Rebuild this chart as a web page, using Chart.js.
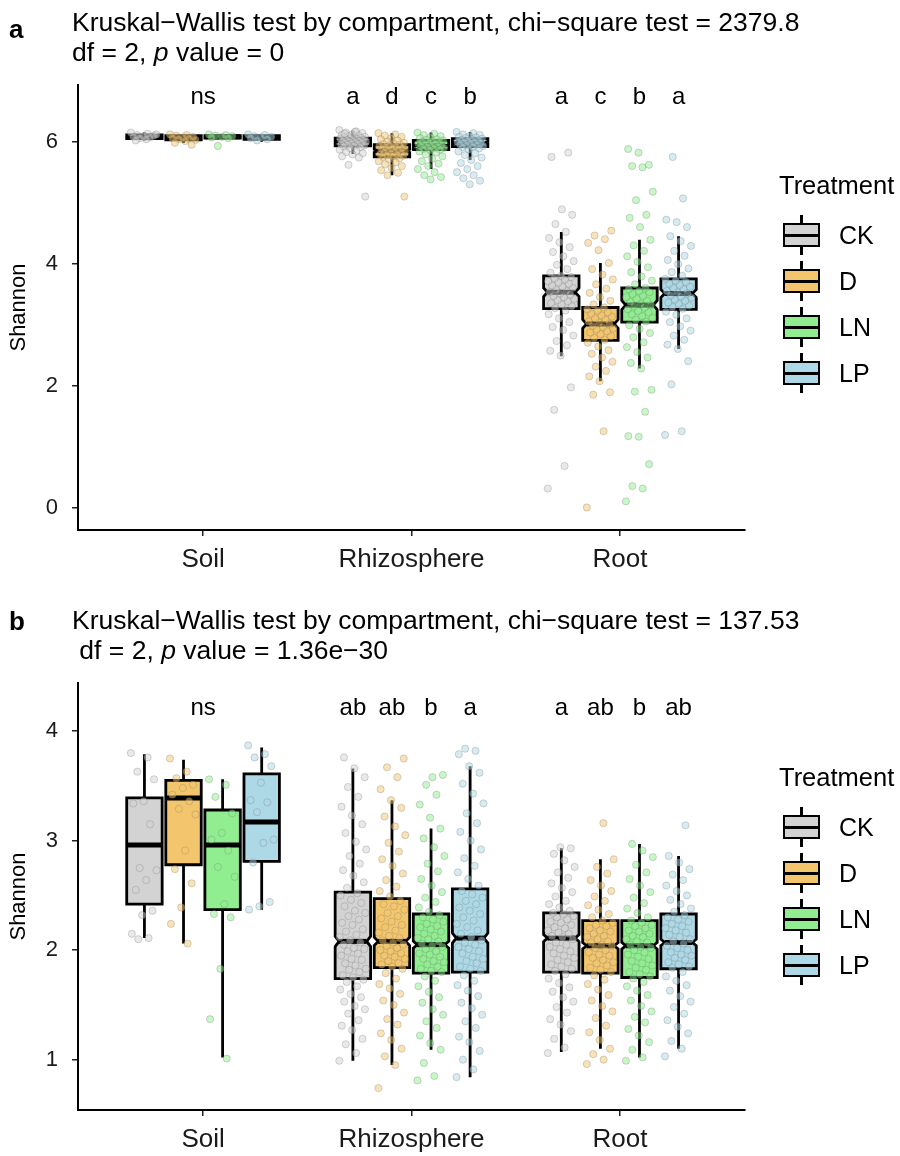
<!DOCTYPE html>
<html>
<head>
<meta charset="utf-8">
<script src="https://cdn.jsdelivr.net/npm/chart.js@4.4.1/dist/chart.umd.min.js"></script>
<style>
  body { margin: 0; background: #fff; font-family: "Liberation Sans", Arial, sans-serif; color: #000; }
  #wrap { position: relative; width: 900px; height: 1156px; overflow: hidden; }
  canvas { position: absolute; left: 0; }
  .tag { position: absolute; left: 9px; font-weight: bold; font-size: 26px; line-height: 30px; }
  .title { position: absolute; left: 72px; font-size: 26.5px; line-height: 30px; white-space: pre; }
  .lgtitle { position: absolute; left: 779px; font-size: 25.5px; line-height: 30px; }
  .item { position: absolute; left: 783px; height: 40px; width: 115px; }
  .item .wh { position: absolute; left: 17px; top: 0; width: 3px; height: 40px; background: #000; }
  .item .bx { position: absolute; left: 0; top: 8px; width: 37px; height: 24px; border: 2.5px solid #000; box-sizing: border-box; }
  .item .md { position: absolute; left: 0; top: 18.5px; width: 37px; height: 3px; background: #000; }
  .item .lb { position: absolute; left: 56px; top: 5px; font-size: 25px; line-height: 30px; }
</style>
</head>
<body>
<div id="wrap">
  <canvas id="chartA" width="900" height="600" style="top:0"></canvas>
  <canvas id="chartB" width="900" height="556" style="top:600px"></canvas>

  <div class="tag" style="top:14px">a</div>
  <div class="title" style="top:7px">Kruskal−Wallis test by compartment, chi−square test = 2379.8
df = 2, <i>p</i> value = 0</div>
  <div class="tag" style="top:606px">b</div>
  <div class="title" style="top:605px">Kruskal−Wallis test by compartment, chi−square test = 137.53
 df = 2, <i>p</i> value = 1.36e−30</div>

  <div id="legendA"></div>
  <div id="legendB"></div>
</div>

<script>
const CATEGORIES = ['Soil', 'Rhizosphere', 'Root'];
const TREATMENTS = ['CK', 'D', 'LN', 'LP'];
const FILLS = ['#D3D3D3', '#F3C66D', '#90EE90', '#ADD8E6'];

const A_TICKS = [0, 2, 4, 6];
const B_TICKS = [1, 2, 3, 4];

const A_LETTERS = [['ns'], ['a', 'd', 'c', 'b'], ['a', 'c', 'b', 'a']];
const B_LETTERS = [['ns'], ['ab', 'ab', 'b', 'a'], ['a', 'ab', 'b', 'ab']];
const A_LETTER_Y = 6.73;
const B_LETTER_Y = 4.21;

// sample sizes per compartment (used for the notch)
const A_N = [10, 140, 140];
const B_N = [15, 700, 700];

// box stats per compartment: [lower whisker, q1, median, q3, upper whisker]
const A_BOX_CK = [[6.02, 6.05, 6.08, 6.11, 6.15], [5.80, 5.93, 6.00, 6.06, 6.18], [2.48, 3.26, 3.53, 3.80, 4.52]];
const A_BOX_D  = [[5.98, 6.03, 6.06, 6.10, 6.12], [5.45, 5.75, 5.85, 5.95, 6.14], [2.07, 2.74, 3.01, 3.28, 4.01]];
const A_BOX_LN = [[6.04, 6.06, 6.08, 6.10, 6.12], [5.55, 5.87, 5.94, 6.02, 6.15], [2.28, 3.04, 3.32, 3.60, 4.39]];
const A_BOX_LP = [[6.00, 6.04, 6.07, 6.10, 6.12], [5.70, 5.92, 5.98, 6.05, 6.16], [2.60, 3.25, 3.51, 3.75, 4.45]];

const B_BOX_CK = [[2.11, 2.42, 2.96, 3.39, 3.79], [0.99, 1.74, 2.08, 2.53, 3.66], [1.07, 1.80, 2.11, 2.34, 2.93]];
const B_BOX_D  = [[2.06, 2.78, 3.39, 3.55, 3.74], [0.95, 1.84, 2.08, 2.47, 3.37], [1.10, 1.79, 2.04, 2.27, 2.83]];
const B_BOX_LN = [[1.02, 2.37, 2.96, 3.28, 3.56], [1.09, 1.79, 2.05, 2.33, 3.11], [1.02, 1.75, 2.04, 2.27, 2.97]];
const B_BOX_LP = [[2.37, 2.81, 3.17, 3.61, 3.85], [0.84, 1.80, 2.11, 2.56, 3.68], [1.10, 1.83, 2.07, 2.33, 2.86]];

// observed Shannon values per compartment (Soil, Rhizosphere, Root)
const A_PTS_CK = [
  [6.15, 6.13, 6.11, 6.10, 6.09, 6.08, 6.07, 6.06, 6.12, 6.04, 6.02],
  [6.19, 6.17, 6.15, 6.14, 6.12, 6.11, 6.10, 6.09, 6.08, 6.07, 6.07, 6.06, 6.05, 6.05, 6.04, 6.03, 6.03, 6.02, 6.01, 6.01, 6.00, 6.00, 5.99, 5.98, 5.98, 5.97, 5.96, 5.96, 5.95, 5.94, 5.93, 5.92, 5.91, 5.89, 5.87, 5.85, 5.83, 5.81, 5.79, 5.76, 5.74, 5.62, 5.10, 6.16, 6.13],
  [0.31, 0.68, 1.60, 1.97, 2.49, 2.57, 2.66, 2.73, 2.82, 2.91, 2.96, 3.04, 3.10, 3.17, 3.23, 3.27, 3.30, 3.33, 3.35, 3.38, 3.40, 3.42, 3.45, 3.47, 3.49, 3.51, 3.53, 3.55, 3.57, 3.60, 3.62, 3.64, 3.67, 3.69, 3.71, 3.74, 3.76, 3.78, 3.80, 3.85, 3.91, 3.98, 4.04, 4.12, 4.19, 4.27, 4.35, 4.42, 4.52, 4.65, 4.80, 4.89, 5.75, 5.82]
];
const A_PTS_D = [
  [6.12, 6.11, 6.10, 6.08, 6.07, 6.06, 6.05, 6.04, 6.03, 6.01, 5.98, 5.95],
  [6.14, 6.12, 6.10, 6.08, 6.06, 6.04, 6.02, 6.00, 5.98, 5.97, 5.96, 5.95, 5.94, 5.93, 5.92, 5.91, 5.90, 5.89, 5.88, 5.87, 5.86, 5.85, 5.84, 5.83, 5.82, 5.81, 5.80, 5.79, 5.78, 5.77, 5.76, 5.75, 5.73, 5.71, 5.68, 5.66, 5.63, 5.60, 5.57, 5.53, 5.49, 5.45, 5.10],
  [0.00, 1.25, 1.85, 1.89, 2.07, 2.15, 2.24, 2.31, 2.39, 2.46, 2.52, 2.58, 2.64, 2.70, 2.75, 2.78, 2.81, 2.84, 2.87, 2.89, 2.92, 2.94, 2.96, 2.98, 3.01, 3.03, 3.05, 3.08, 3.10, 3.13, 3.15, 3.18, 3.20, 3.23, 3.25, 3.28, 3.33, 3.39, 3.45, 3.52, 3.59, 3.66, 3.74, 3.82, 3.91, 4.01, 4.22, 4.34, 4.40, 4.46, 4.54]
];
const A_PTS_LN = [
  [6.12, 6.11, 6.10, 6.09, 6.08, 6.07, 6.06, 5.93],
  [6.15, 6.13, 6.11, 6.09, 6.07, 6.06, 6.04, 6.03, 6.02, 6.01, 6.00, 5.99, 5.98, 5.97, 5.96, 5.95, 5.94, 5.93, 5.93, 5.92, 5.91, 5.90, 5.89, 5.88, 5.87, 5.86, 5.84, 5.82, 5.79, 5.76, 5.72, 5.68, 5.64, 5.60, 5.55, 5.50, 5.45, 5.42, 5.38],
  [0.10, 0.31, 0.35, 0.71, 1.16, 1.17, 1.57, 1.90, 1.93, 2.28, 2.37, 2.46, 2.55, 2.63, 2.71, 2.79, 2.86, 2.93, 2.99, 3.05, 3.08, 3.11, 3.14, 3.17, 3.20, 3.22, 3.25, 3.28, 3.30, 3.32, 3.34, 3.37, 3.39, 3.42, 3.45, 3.47, 3.50, 3.53, 3.55, 3.58, 3.60, 3.66, 3.72, 3.79, 3.86, 3.94, 4.03, 4.12, 4.21, 4.30, 4.39, 4.60, 4.75, 4.80, 5.04, 5.18, 5.58, 5.60, 5.62, 5.82, 5.88]
];
const A_PTS_LP = [
  [6.12, 6.11, 6.09, 6.08, 6.07, 6.06, 6.04, 6.02],
  [6.16, 6.14, 6.12, 6.11, 6.09, 6.08, 6.07, 6.06, 6.05, 6.04, 6.03, 6.02, 6.01, 6.00, 5.99, 5.99, 5.98, 5.97, 5.96, 5.95, 5.94, 5.93, 5.92, 5.91, 5.89, 5.87, 5.84, 5.81, 5.78, 5.74, 5.70, 5.65, 5.60, 5.55, 5.50, 5.45, 5.40, 5.36, 5.30],
  [1.19, 1.25, 2.02, 2.40, 2.60, 2.67, 2.75, 2.82, 2.90, 2.97, 3.04, 3.10, 3.16, 3.21, 3.26, 3.29, 3.31, 3.34, 3.36, 3.39, 3.41, 3.44, 3.46, 3.48, 3.51, 3.53, 3.55, 3.58, 3.60, 3.62, 3.65, 3.67, 3.70, 3.72, 3.75, 3.80, 3.86, 3.92, 3.99, 4.06, 4.13, 4.21, 4.29, 4.37, 4.45, 4.60, 4.68, 4.72, 5.07, 5.75]
];

const B_PTS_CK = [
  [3.80, 3.76, 3.63, 3.56, 3.36, 3.34, 3.15, 2.75, 2.73, 2.64, 2.55, 2.36, 2.32, 2.15, 2.11, 2.10],
  [0.99, 1.06, 1.14, 1.19, 1.27, 1.31, 1.36, 1.42, 1.46, 1.49, 1.53, 1.57, 1.60, 1.64, 1.67, 1.71, 1.73, 1.75, 1.77, 1.80, 1.82, 1.83, 1.86, 1.88, 1.91, 1.92, 1.95, 1.97, 1.99, 2.01, 2.02, 2.05, 2.07, 2.09, 2.12, 2.14, 2.17, 2.19, 2.23, 2.25, 2.28, 2.31, 2.34, 2.36, 2.40, 2.43, 2.46, 2.50, 2.52, 2.57, 2.62, 2.68, 2.73, 2.79, 2.86, 2.92, 2.99, 3.07, 3.15, 3.23, 3.31, 3.40, 3.49, 3.58, 3.66, 3.76],
  [1.06, 1.11, 1.19, 1.26, 1.32, 1.37, 1.43, 1.48, 1.53, 1.57, 1.62, 1.66, 1.70, 1.74, 1.78, 1.81, 1.83, 1.85, 1.87, 1.89, 1.91, 1.93, 1.95, 1.97, 1.99, 2.01, 2.03, 2.05, 2.07, 2.10, 2.12, 2.13, 2.15, 2.16, 2.18, 2.20, 2.21, 2.23, 2.25, 2.26, 2.28, 2.30, 2.31, 2.33, 2.34, 2.36, 2.39, 2.42, 2.45, 2.49, 2.53, 2.57, 2.61, 2.66, 2.71, 2.76, 2.82, 2.88, 2.93, 2.94]
];
const B_PTS_D = [
  [3.75, 3.63, 3.57, 3.51, 3.48, 3.42, 3.36, 3.29, 3.24, 2.91, 2.74, 2.61, 2.39, 2.24, 2.06],
  [0.74, 0.95, 1.03, 1.10, 1.18, 1.24, 1.32, 1.37, 1.43, 1.50, 1.54, 1.60, 1.65, 1.69, 1.74, 1.79, 1.83, 1.85, 1.87, 1.88, 1.90, 1.92, 1.94, 1.95, 1.97, 1.99, 2.00, 2.02, 2.04, 2.05, 2.07, 2.09, 2.11, 2.13, 2.16, 2.18, 2.21, 2.23, 2.26, 2.29, 2.31, 2.34, 2.37, 2.40, 2.42, 2.45, 2.49, 2.54, 2.58, 2.64, 2.70, 2.77, 2.83, 2.90, 2.98, 3.05, 3.13, 3.22, 3.30, 3.37, 3.47, 3.58, 3.67, 3.75],
  [0.96, 1.00, 1.05, 1.10, 1.18, 1.25, 1.31, 1.38, 1.44, 1.49, 1.54, 1.59, 1.64, 1.69, 1.73, 1.77, 1.80, 1.82, 1.84, 1.86, 1.88, 1.89, 1.91, 1.93, 1.95, 1.96, 1.98, 2.00, 2.02, 2.04, 2.05, 2.07, 2.08, 2.10, 2.12, 2.13, 2.15, 2.17, 2.18, 2.20, 2.22, 2.23, 2.25, 2.27, 2.30, 2.33, 2.37, 2.41, 2.45, 2.49, 2.54, 2.59, 2.64, 2.70, 2.76, 2.83, 3.16]
];
const B_PTS_LN = [
  [3.56, 3.51, 3.40, 3.25, 3.07, 3.01, 2.91, 2.76, 2.67, 2.42, 2.33, 2.30, 1.83, 1.37, 1.01],
  [0.81, 0.85, 0.97, 1.09, 1.15, 1.22, 1.29, 1.35, 1.41, 1.46, 1.52, 1.57, 1.62, 1.67, 1.72, 1.76, 1.80, 1.81, 1.83, 1.85, 1.87, 1.89, 1.90, 1.92, 1.94, 1.96, 1.97, 1.99, 2.01, 2.03, 2.04, 2.06, 2.08, 2.10, 2.11, 2.13, 2.15, 2.17, 2.19, 2.21, 2.22, 2.24, 2.26, 2.28, 2.30, 2.32, 2.35, 2.39, 2.44, 2.48, 2.53, 2.59, 2.65, 2.72, 2.79, 2.86, 2.94, 3.02, 3.11, 3.21, 3.33, 3.42, 3.51, 3.60, 3.58],
  [0.99, 1.02, 1.09, 1.16, 1.22, 1.28, 1.34, 1.39, 1.44, 1.49, 1.54, 1.59, 1.63, 1.67, 1.71, 1.74, 1.76, 1.78, 1.80, 1.82, 1.84, 1.86, 1.88, 1.90, 1.92, 1.94, 1.96, 1.98, 2.00, 2.02, 2.03, 2.05, 2.07, 2.08, 2.10, 2.12, 2.13, 2.15, 2.17, 2.18, 2.20, 2.22, 2.23, 2.25, 2.27, 2.30, 2.34, 2.38, 2.43, 2.48, 2.53, 2.59, 2.65, 2.71, 2.78, 2.85, 2.91, 2.97]
];
const B_PTS_LP = [
  [3.87, 3.79, 3.76, 3.68, 3.53, 3.37, 3.35, 3.26, 3.01, 2.98, 2.80, 2.44, 2.40, 2.37],
  [0.84, 0.91, 1.00, 1.08, 1.16, 1.21, 1.29, 1.35, 1.41, 1.47, 1.52, 1.58, 1.63, 1.68, 1.72, 1.77, 1.81, 1.83, 1.85, 1.88, 1.90, 1.92, 1.94, 1.97, 1.99, 2.01, 2.03, 2.05, 2.07, 2.09, 2.12, 2.15, 2.18, 2.21, 2.24, 2.27, 2.30, 2.33, 2.36, 2.39, 2.42, 2.45, 2.48, 2.51, 2.54, 2.59, 2.65, 2.71, 2.77, 2.84, 2.92, 3.00, 3.08, 3.16, 3.25, 3.34, 3.43, 3.52, 3.62, 3.68, 3.79, 3.82, 3.84],
  [1.03, 1.10, 1.17, 1.24, 1.30, 1.36, 1.42, 1.48, 1.53, 1.58, 1.63, 1.68, 1.72, 1.76, 1.80, 1.84, 1.85, 1.87, 1.89, 1.91, 1.93, 1.95, 1.96, 1.98, 2.00, 2.02, 2.04, 2.06, 2.08, 2.10, 2.12, 2.14, 2.16, 2.18, 2.20, 2.22, 2.24, 2.26, 2.28, 2.30, 2.32, 2.35, 2.38, 2.42, 2.46, 2.50, 2.54, 2.59, 2.64, 2.69, 2.74, 2.80, 2.86, 3.14]
];

// ---- layout / style constants ----
const FONT = '"Liberation Sans", Arial, sans-serif';
const DODGE = 0.1875;
const OFFSETS = [-1.5, -0.5, 0.5, 1.5].map(k => k * DODGE);
const BOX_W = 0.17;
const JITTER = 0.065;
const NOTCH_W = 0.78;
const NOTCHED = [false, true, true];

function rgba(hex, a) {
  const n = parseInt(hex.slice(1), 16);
  return `rgba(${n >> 16},${(n >> 8) & 255},${n & 255},${a})`;
}

const boxPlugin = {
  id: 'boxes',
  beforeDatasetsDraw(chart, args, opts) {
    const { ctx, scales: { x, y } } = chart;
    const half = (x.getPixelForValue(BOX_W) - x.getPixelForValue(0)) / 2;
    opts.boxes.forEach((stats, t) => {
      stats.forEach((s, c) => {
        const cx = x.getPixelForValue(c + 1 + OFFSETS[t]);
        const [lo, q1, md, q3, hi] = s.map(v => y.getPixelForValue(v));
        ctx.save();
        ctx.strokeStyle = '#000';
        ctx.lineJoin = 'miter';
        ctx.lineWidth = 2.8;
        ctx.beginPath();
        ctx.moveTo(cx, lo); ctx.lineTo(cx, q1);
        ctx.moveTo(cx, q3); ctx.lineTo(cx, hi);
        ctx.stroke();
        let hw = half;
        ctx.beginPath();
        if (NOTCHED[c]) {
          const nv = 1.58 * (s[3] - s[1]) / Math.sqrt(opts.n[c]);
          const nu = y.getPixelForValue(s[2] + nv), nl = y.getPixelForValue(s[2] - nv);
          hw = half * NOTCH_W;
          ctx.moveTo(cx - half, q3); ctx.lineTo(cx + half, q3);
          ctx.lineTo(cx + half, nu); ctx.lineTo(cx + hw, md); ctx.lineTo(cx + half, nl);
          ctx.lineTo(cx + half, q1); ctx.lineTo(cx - half, q1);
          ctx.lineTo(cx - half, nl); ctx.lineTo(cx - hw, md); ctx.lineTo(cx - half, nu);
          ctx.closePath();
        } else {
          ctx.rect(cx - half, q3, 2 * half, q1 - q3);
        }
        ctx.fillStyle = FILLS[t];
        ctx.fill();
        ctx.stroke();
        ctx.lineWidth = 5;
        ctx.beginPath();
        ctx.moveTo(cx - hw, md); ctx.lineTo(cx + hw, md);
        ctx.stroke();
        ctx.restore();
      });
    });
  },
  afterDatasetsDraw(chart, args, opts) {
    const { ctx, scales: { x, y } } = chart;
    ctx.save();
    ctx.fillStyle = '#000';
    ctx.font = '24px ' + FONT;
    ctx.textAlign = 'center';
    ctx.textBaseline = 'middle';
    const py = y.getPixelForValue(opts.letterY);
    opts.letters.forEach((group, c) => {
      group.forEach((txt, t) => {
        const xv = group.length === 1 ? c + 1 : c + 1 + OFFSETS[t];
        ctx.fillText(txt, x.getPixelForValue(xv), py);
      });
    });
    ctx.restore();
  }
};

function makeDatasets(pts) {
  return TREATMENTS.map((name, t) => ({
    label: name,
    data: pts[t].flatMap((vals, c) => vals.map((v, i) => ({
      x: c + 1 + OFFSETS[t] + (((i * 0.6180339887) % 1) - 0.5) * 2 * JITTER,
      y: v
    }))),
    backgroundColor: rgba(FILLS[t], 0.5),
    borderColor: 'rgba(110,110,110,0.35)',
    borderWidth: 0.8,
    pointRadius: 3.6
  }));
}

function makeChart(id, cfg) {
  return new Chart(document.getElementById(id), {
    type: 'scatter',
    data: { datasets: makeDatasets(cfg.pts) },
    plugins: [boxPlugin],
    options: {
      responsive: false,
      animation: false,
      events: [],
      layout: { padding: { left: 0, right: 155, top: cfg.top, bottom: 0 } },
      plugins: {
        legend: { display: false },
        tooltip: { enabled: false },
        boxes: { boxes: cfg.boxes, n: cfg.n, letters: cfg.letters, letterY: cfg.letterY }
      },
      scales: {
        x: {
          type: 'linear', min: 0.4, max: 3.6,
          afterBuildTicks: s => { s.ticks = [1, 2, 3].map(v => ({ value: v })); },
          afterFit: s => { s.height = cfg.xh; },
          ticks: {
            callback: v => CATEGORIES[Math.round(v) - 1],
            color: '#1a1a1a', font: { size: 26, family: FONT }, padding: 8,
            autoSkip: false, maxRotation: 0
          },
          grid: { drawOnChartArea: false, drawTicks: true, tickLength: 6, color: '#222', lineWidth: 1.5 },
          border: { display: true, color: '#000', width: 2 }
        },
        y: {
          min: cfg.min, max: cfg.max,
          afterBuildTicks: s => { s.ticks = cfg.ticks.map(v => ({ value: v })); },
          afterFit: s => { s.width = 78; },
          ticks: { color: '#1a1a1a', font: { size: 22, family: FONT }, padding: 14 },
          grid: { drawOnChartArea: false, drawTicks: true, tickLength: 6, color: '#222', lineWidth: 1.5 },
          border: { display: true, color: '#000', width: 2 },
          title: { display: true, text: 'Shannon', color: '#000', font: { size: 22, family: FONT }, padding: { top: 6, bottom: 0 } }
        }
      }
    }
  });
}

makeChart('chartA', {
  pts: [A_PTS_CK, A_PTS_D, A_PTS_LN, A_PTS_LP],
  boxes: [A_BOX_CK, A_BOX_D, A_BOX_LN, A_BOX_LP],
  n: A_N, letters: A_LETTERS, letterY: A_LETTER_Y,
  ticks: A_TICKS, min: -0.37, max: 6.93, top: 85, xh: 70
});

makeChart('chartB', {
  pts: [B_PTS_CK, B_PTS_D, B_PTS_LN, B_PTS_LP],
  boxes: [B_BOX_CK, B_BOX_D, B_BOX_LN, B_BOX_LP],
  n: B_N, letters: B_LETTERS, letterY: B_LETTER_Y,
  ticks: B_TICKS, min: 0.54, max: 4.44, top: 83, xh: 46
});

function buildLegend(id, top) {
  const el = document.getElementById(id);
  let html = `<div class="lgtitle" style="top:${top - 15}px">Treatment</div>`;
  TREATMENTS.forEach((name, t) => {
    const cy = top + 50 + t * 46;
    html += `<div class="item" style="top:${cy - 20}px"><div class="wh"></div>` +
      `<div class="bx" style="background:${FILLS[t]}"></div><div class="md"></div>` +
      `<div class="lb">${name}</div></div>`;
  });
  el.innerHTML = html;
}
buildLegend('legendA', 185);
buildLegend('legendB', 777);
</script>
</body>
</html>
